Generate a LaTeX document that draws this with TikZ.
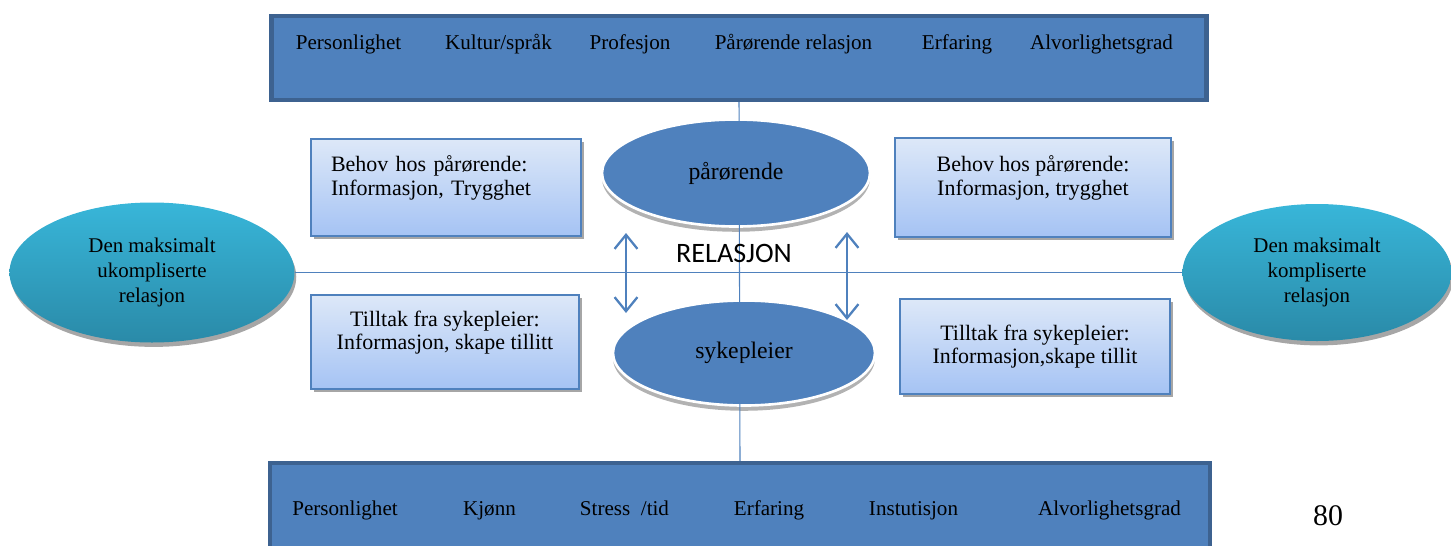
\documentclass[tikz,border=0pt]{standalone}
\usepackage{fontspec}
\setmainfont{Liberation Serif}
\newfontfamily\relfont{Carlito}
\usetikzlibrary{shapes,shadows,arrows.meta}
\definecolor{nblue}{HTML}{4F81BD}
\definecolor{nframe}{HTML}{3D6290}
\definecolor{boxtop}{HTML}{DDE8F8}
\definecolor{boxbot}{HTML}{A5C3F4}
\definecolor{cyantop}{HTML}{38B6D9}
\definecolor{cyanbot}{HTML}{2A8AA8}

\begin{document}
\begin{tikzpicture}[font=\fontsize{12}{13.5}\selectfont,
 band/.style={rectangle, draw=nframe, line width=2.5pt, fill=nblue},
 item/.style={inner sep=0pt, anchor=base},
 disc/.style={ellipse, inner sep=0pt, fill=nblue, draw=white, line width=1.5pt, drop shadow={shadow xshift=0pt, shadow yshift=-3pt, fill=gray!60, opacity=1}, font=\fontsize{13.5}{15}\selectfont},
 pole/.style={ellipse, inner sep=0pt, top color=cyantop, bottom color=cyanbot, align=center, drop shadow={shadow xshift=1pt, shadow yshift=-2.5pt, fill=gray!70, opacity=1}, font=\fontsize{11.9}{14}\selectfont},
 note/.style={rectangle, draw=nblue, line width=0.8pt, top color=boxtop, bottom color=boxbot, drop shadow={shadow xshift=1.8pt, shadow yshift=-1.8pt, fill=gray!70, opacity=1}, font=\fontsize{12.5}{13.5}\selectfont},
 link/.style={nblue, line width=0.9pt},
 dbl/.style={link, line width=1.3pt, {Straight Barb[length=8pt,width=13pt]}-{Straight Barb[length=8pt,width=13pt]}}]
\useasboundingbox (0,0) rectangle (29.02,10.9);
\node[band, minimum width=18.7cm, minimum height=1.68cm] (top) at (14.78,9.74) {};
\node[band, minimum width=18.8cm, minimum height=2.0cm] (bot) at (14.80,0.64) {};
\node[item] (t1) at (6.97,9.92) {Personlighet};
\node[item] (t2) at (9.97,9.92) {Kultur/språk};
\node[item] (t3) at (12.60,9.92) {Profesjon};
\node[item] (t4) at (15.87,9.92) {Pårørende relasjon};
\node[item] (t5) at (19.14,9.92) {Erfaring};
\node[item] (t6) at (22.03,9.92) {Alvorlighetsgrad};
\node[item] (b1) at (6.90,0.60) {Personlighet};
\node[item] (b2) at (9.79,0.60) {Kjønn};
\node[item] (b3) at (12.49,0.60) {Stress\ \ /tid};
\node[item] (b4) at (15.38,0.60) {Erfaring};
\node[item] (b5) at (18.27,0.60) {Instutisjon};
\node[item] (b6) at (22.19,0.60) {Alvorlighetsgrad};
\node[pole, minimum width=5.7cm, minimum height=2.8cm] (lo) at (3.04,5.45) {Den maksimalt\\ukompliserte\\relasjon};
\node[pole, minimum width=5.38cm, minimum height=2.74cm] (hi) at (26.34,5.45) {Den maksimalt\\kompliserte\\relasjon};
\draw[link] (lo.east) -- (hi.west);
\node[disc, minimum width=5.36cm, minimum height=2.14cm] (pa) at (14.72,7.44) {pårørende};
\node[disc, minimum width=5.24cm, minimum height=2.1cm] (sy) at (14.88,3.84) {sykepleier};
\draw[link, line width=0.6pt] (top.south) -- (bot.north);
\node[note, minimum width=5.4cm, minimum height=1.94cm, text width=4.6cm, inner xsep=0.4cm, align=left] (n1) at (8.92,7.15) {Behov hos pårørende:\\Informasjon, Trygghet\\\mbox{}};
\node[note, minimum width=5.52cm, minimum height=1.98cm, align=center] (n2) at (20.66,7.15) {Behov hos pårørende:\\Informasjon, trygghet\\\mbox{}};
\node[note, minimum width=5.36cm, minimum height=1.88cm, align=center] (n3) at (8.90,4.06) {Tilltak fra sykepleier:\\Informasjon, skape tillitt\\\mbox{}};
\node[note, minimum width=5.4cm, minimum height=1.9cm, align=center] (n4) at (20.70,3.97) {Tilltak fra sykepleier:\\Informasjon,skape tillit};
\node[inner sep=0pt, font=\relfont\fontsize{16}{18}\selectfont] (rel) at (14.68,5.84) {RELASJON};
\coordinate (a1) at (12.52,6.24);
\coordinate (a2) at (12.52,4.64);
\coordinate (a3) at (16.94,6.26);
\coordinate (a4) at (16.94,4.50);
\draw[dbl] (a1) -- (a2);
\draw[dbl] (a3) -- (a4);
\node[inner sep=0pt, font=\fontsize{17}{19}\selectfont] (pg) at (26.56,0.58) {80};
\end{tikzpicture}
\end{document}
